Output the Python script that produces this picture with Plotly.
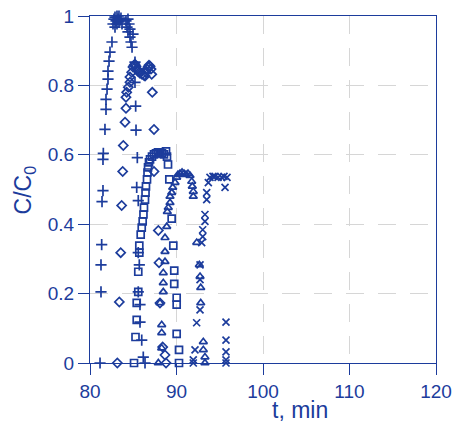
import plotly.graph_objects as go

# Breakthrough / elution profiles, C/C0 versus time (min), five runs
t_plus = [81.16, 81.27, 81.27, 81.35, 81.39, 81.50, 81.50, 81.54, 81.73, 81.85, 81.85, 81.97,
          82.08, 82.08, 82.20, 82.31, 82.54, 82.66, 82.77, 82.89, 82.89, 83.01, 83.12, 83.12,
          83.24, 83.35, 83.35, 83.47, 83.58, 83.70, 84.16, 84.28, 84.39, 84.39, 84.51, 84.62,
          84.62, 84.74, 84.86, 84.97, 85.20, 85.20, 85.28, 85.32, 85.47, 85.40, 85.58, 85.58,
          85.70, 85.58, 85.78, 85.78, 85.98, 86.16, 86.36]
c_plus = [0.000, 0.205, 0.283, 0.341, 0.465, 0.497, 0.587, 0.604, 0.673, 0.731, 0.760, 0.789,
          0.818, 0.841, 0.870, 0.896, 0.925, 0.977, 0.991, 0.968, 0.997, 0.986, 1.000, 0.977,
          0.991, 0.983, 1.000, 0.988, 0.994, 0.977, 0.986, 0.968, 0.991, 0.954, 0.977, 0.939,
          0.962, 0.925, 0.910, 0.948, 0.867, 0.809, 0.740, 0.671, 0.592, 0.506, 0.468, 0.318,
          0.283, 0.205, 0.168, 0.118, 0.066, 0.017, 0.000]

t_diam = [83.16, 83.39, 83.55, 83.66, 83.78, 83.85, 84.05, 84.16, 84.16, 84.24, 84.43, 84.62,
          84.62, 84.82, 84.97, 85.09, 85.20, 85.32, 85.43, 85.55, 85.78, 86.01, 86.24, 86.36,
          86.47, 86.59, 86.71, 86.82, 86.94, 87.05, 87.13, 87.20, 87.40, 87.40, 87.90, 87.98,
          88.09, 88.40, 88.67, 88.79]
c_diam = [0.000, 0.176, 0.318, 0.454, 0.552, 0.627, 0.694, 0.734, 0.766, 0.780, 0.795, 0.809,
          0.824, 0.838, 0.853, 0.858, 0.861, 0.855, 0.847, 0.841, 0.835, 0.832, 0.829, 0.827,
          0.838, 0.847, 0.853, 0.858, 0.855, 0.847, 0.832, 0.780, 0.673, 0.552, 0.382, 0.289,
          0.173, 0.046, 0.023, 0.000]

t_sq = [85.09, 85.26, 85.40, 85.40, 85.58, 85.58, 85.70, 85.70, 85.86, 85.98, 86.09, 86.18,
        86.24, 86.36, 86.42, 86.47, 86.59, 86.65, 86.71, 86.82, 86.94, 87.17, 87.40, 87.63,
        87.86, 88.09, 88.32, 88.55, 88.79, 88.90, 89.02, 89.17, 89.44, 89.63, 89.74, 89.74,
        90.02, 90.02, 90.02, 90.29, 90.29]
c_sq = [0.000, 0.075, 0.124, 0.173, 0.205, 0.263, 0.318, 0.338, 0.370, 0.390, 0.408, 0.428,
        0.448, 0.471, 0.491, 0.509, 0.529, 0.549, 0.564, 0.578, 0.587, 0.595, 0.601, 0.604,
        0.607, 0.607, 0.604, 0.601, 0.610, 0.595, 0.572, 0.529, 0.416, 0.338, 0.266, 0.228,
        0.188, 0.168, 0.084, 0.038, 0.000]

t_tri = [87.90, 88.29, 88.29, 88.29, 88.09, 88.47, 88.47, 88.47, 88.67, 88.67, 88.67, 88.87,
         88.94, 89.05, 89.25, 89.25, 89.45, 89.56, 89.83, 90.02, 90.17, 90.40, 90.64, 90.87,
         91.10, 91.33, 91.56, 91.76, 91.83, 91.94, 91.94, 92.34, 92.64, 92.72, 92.80, 92.80,
         93.10, 93.10, 93.29, 93.29]
c_tri = [0.000, 0.043, 0.087, 0.110, 0.173, 0.205, 0.231, 0.260, 0.292, 0.321, 0.361, 0.393,
         0.436, 0.448, 0.462, 0.480, 0.491, 0.506, 0.520, 0.535, 0.543, 0.546, 0.549, 0.546,
         0.543, 0.546, 0.540, 0.523, 0.509, 0.494, 0.480, 0.347, 0.283, 0.249, 0.217, 0.173,
         0.061, 0.038, 0.017, 0.000]

t_x = [91.94, 91.94, 92.14, 92.33, 92.72, 92.72, 92.72, 92.91, 93.03, 93.03, 93.29, 93.29,
       93.49, 93.49, 93.68, 93.87, 94.22, 94.45, 94.80, 95.23, 95.49, 95.84, 95.61, 95.72,
       95.72, 95.72, 95.72, 95.72]
c_x = [0.000, 0.009, 0.038, 0.116, 0.153, 0.240, 0.283, 0.347, 0.364, 0.384, 0.408, 0.428,
       0.471, 0.491, 0.520, 0.535, 0.538, 0.538, 0.535, 0.535, 0.538, 0.535, 0.506, 0.118,
       0.066, 0.032, 0.009, 0.000]

x_ticks = [80, 90, 100, 110, 120]
y_ticks = [0, 0.2, 0.4, 0.6, 0.8, 1]

BLUE = "#1c3c9c"
FONT = "Liberation Sans, Arial, sans-serif"

series = [
    (t_plus, c_plus, "cross-thin-open", 8),
    (t_diam, c_diam, "diamond-open", 7),
    (t_sq, c_sq, "square-open", 7),
    (t_tri, c_tri, "triangle-up-open", 7),
    (t_x, c_x, "x-thin-open", 7),
]

fig = go.Figure()
for t, c, sym, size in series:
    fig.add_trace(go.Scatter(
        x=t, y=c, mode="markers", showlegend=False,
        marker=dict(symbol=sym, size=size, color=BLUE,
                    line=dict(color=BLUE, width=1.7)),
        cliponaxis=False,
    ))

axis_common = dict(
    showline=True, linecolor=BLUE, linewidth=1.3, mirror=True,
    ticks="outside", ticklen=11, tickwidth=1.3, tickcolor=BLUE,
    showgrid=True, gridcolor="#d6d6d6", gridwidth=1.3, griddash="18px,14px",
    zeroline=False, automargin=False,
    tickfont=dict(family=FONT, size=19, color=BLUE),
)

fig.update_xaxes(range=[80, 120], tickvals=x_ticks, **axis_common)
fig.update_yaxes(range=[0, 1], tickvals=y_ticks, ticktext=[f"{v:g}" for v in y_ticks],
                 **axis_common)

fig.add_annotation(text="t, min", xref="paper", yref="paper", x=0.607, y=-0.135,
                   xanchor="center", yanchor="middle", showarrow=False,
                   font=dict(family=FONT, size=23, color=BLUE))
fig.add_annotation(text="C/C<sub>0</sub>", xref="paper", yref="paper", x=-0.188, y=0.5,
                   xanchor="center", yanchor="middle", showarrow=False, textangle=-90,
                   font=dict(family=FONT, size=23, color=BLUE))

fig.update_layout(
    width=454, height=434,
    margin=dict(l=90, r=18, t=16, b=71),
    paper_bgcolor="white", plot_bgcolor="white",
)

fig.write_html("out.html")
